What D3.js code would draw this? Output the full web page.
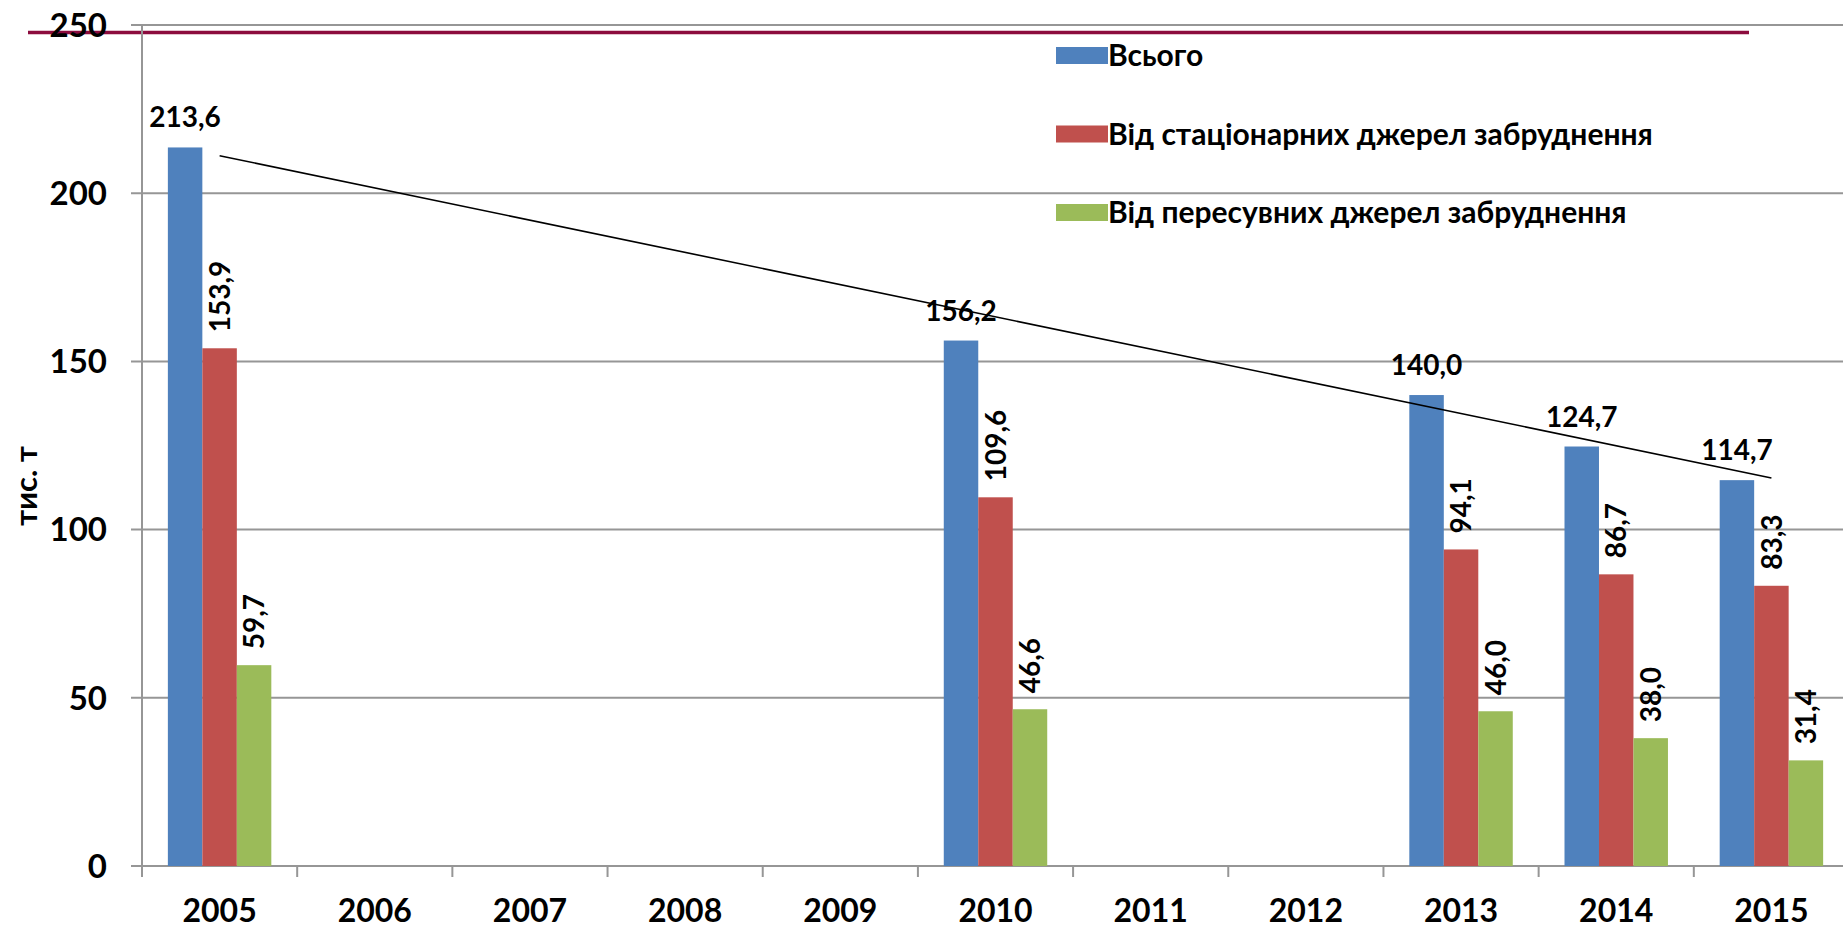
<!DOCTYPE html>
<html>
<head>
<meta charset="utf-8">
<script src="https://cdn.jsdelivr.net/npm/d3@7"></script>
<style>
  html, body { margin: 0; padding: 0; background: #fff; }
  svg { display: block; }
  text { font-family: Lato, "Open Sans", sans-serif; font-weight: 700; fill: #000; }
</style>
</head>
<body>
<svg id="chart" width="1843" height="929"></svg>
<script>
const years = ["2005","2006","2007","2008","2009","2010","2011","2012","2013","2014","2015"];
const totalValues      = [213.6, null, null, null, null, 156.2, null, null, 140.0, 124.7, 114.7];
const stationaryValues = [153.9, null, null, null, null, 109.6, null, null, 94.1, 86.7, 83.3];
const mobileValues     = [59.7,  null, null, null, null, 46.6,  null, null, 46.0, 38.0, 31.4];
const seriesNames = ["Всього", "Від стаціонарних джерел забруднення", "Від пересувних джерел забруднення"];
const yTicks = [0, 50, 100, 150, 200, 250];
const yTitle = "тис. т";

(function () {
const colors = ["#4F81BD", "#C0504D", "#9BBB59"];
const series = [totalValues, stationaryValues, mobileValues];

const svg = d3.select("#chart");
const pL = 142, pR = 1849, pT = 25, pB = 866;

const x = d3.scaleBand().domain(years).range([pL, pR]).padding(0);
const y = d3.scaleLinear().domain([0, 250]).range([pB, pT]);
const bw = x.bandwidth() / 4.5;
const inner = d3.scaleBand().domain([0,1,2]).range([0.75*bw, 3.75*bw]).padding(0);
const fmt = v => d3.format(".1f")(v).replace(".", ",");

// gridlines
svg.append("g").selectAll("line").data(yTicks).join("line")
  .attr("x1", pL - 11).attr("x2", 1843)
  .attr("y1", d => y(d)).attr("y2", d => y(d))
  .attr("stroke", "#969696").attr("stroke-width", 2);

// maroon reference line
svg.append("line").attr("x1", 28).attr("x2", 1749).attr("y1", 32.5).attr("y2", 32.5)
  .attr("stroke", "#8C0C3E").attr("stroke-width", 3.5);

// y axis line
svg.append("line").attr("x1", pL).attr("x2", pL).attr("y1", y(250)).attr("y2", pB + 11)
  .attr("stroke", "#969696").attr("stroke-width", 2);

// x ticks at category boundaries
const bounds = years.map(d => x(d)).concat([x(years[years.length-1]) + x.bandwidth()]);
svg.append("g").selectAll("line").data(bounds).join("line")
  .attr("x1", d => d).attr("x2", d => d).attr("y1", pB).attr("y2", pB + 11)
  .attr("stroke", "#969696").attr("stroke-width", 2);

// y tick labels
svg.append("g").selectAll("text").data(yTicks).join("text")
  .attr("x", 107).attr("y", d => y(d)).attr("dy", "0.36em")
  .attr("text-anchor", "end").style("font-size", "33px")
  .text(d => d);

// x tick labels
svg.append("g").selectAll("text").data(years).join("text")
  .attr("x", d => x(d) + x.bandwidth()/2).attr("y", 922)
  .attr("text-anchor", "middle").style("font-size", "32px")
  .text(d => d);

// y axis title
svg.append("text").attr("transform", "translate(37,486) rotate(-90)")
  .attr("text-anchor", "middle").style("font-size", "31px").text(yTitle);

// bars
series.forEach((vals, si) => {
  const pts = years.map((yr, i) => ({yr, v: vals[i]})).filter(d => d.v != null);
  svg.append("g").selectAll("rect").data(pts).join("rect")
    .attr("x", d => x(d.yr) + inner(si))
    .attr("width", inner.bandwidth())
    .attr("y", d => y(d.v))
    .attr("height", d => y(0) - y(d.v))
    .attr("fill", colors[si]);
});

// data labels
series.forEach((vals, si) => {
  const pts = years.map((yr, i) => ({yr, v: vals[i]})).filter(d => d.v != null);
  const g = svg.append("g");
  if (si === 0) {
    g.selectAll("text").data(pts).join("text")
      .attr("x", d => x(d.yr) + inner(si) + inner.bandwidth()/2)
      .attr("y", d => y(d.v) - 20)
      .attr("text-anchor", "middle").style("font-size", "28px")
      .text(d => fmt(d.v));
  } else {
    g.selectAll("text").data(pts).join("text")
      .attr("transform", d => `translate(${x(d.yr) + inner(si) + inner.bandwidth()/2},${y(d.v) - 16}) rotate(-90)`)
      .attr("dy", "0.36em")
      .attr("text-anchor", "start").style("font-size", "28px")
      .text(d => fmt(d.v));
  }
});

// linear trendline for totals (least squares over category index)
const tp = years.map((yr, i) => ({i: i + 1, yr, v: totalValues[i]})).filter(d => d.v != null);
const mx = d3.mean(tp, d => d.i), my = d3.mean(tp, d => d.v);
const slope = d3.sum(tp, d => (d.i - mx) * (d.v - my)) / d3.sum(tp, d => (d.i - mx) ** 2);
const icpt = my - slope * mx;
const first = tp[0], last = tp[tp.length - 1];
svg.append("line")
  .attr("x1", x(first.yr) + x.bandwidth()/2).attr("y1", y(icpt + slope * first.i))
  .attr("x2", x(last.yr) + x.bandwidth()/2).attr("y2", y(icpt + slope * last.i))
  .attr("stroke", "#000").attr("stroke-width", 1.6);

// legend
const legY = [55.5, 134, 212.5];
const leg = svg.append("g");
seriesNames.forEach((name, i) => {
  leg.append("rect").attr("x", 1056).attr("y", legY[i] - 8.5).attr("width", 52).attr("height", 17)
    .attr("fill", colors[i]);
  leg.append("text").attr("x", 1108).attr("y", legY[i]).attr("dy", "0.36em")
    .style("font-size", "30px").text(name);
});
})();
</script>
</body>
</html>
